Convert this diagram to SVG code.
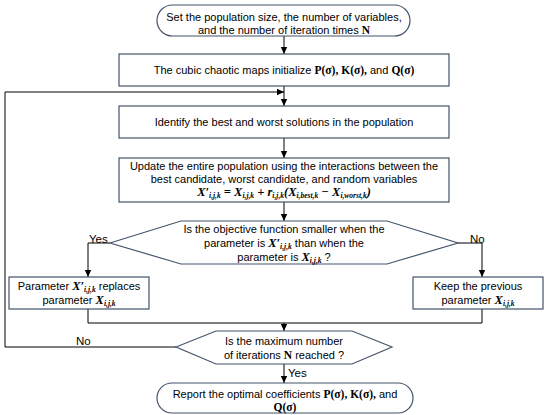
<svg xmlns="http://www.w3.org/2000/svg" width="550" height="415" viewBox="0 0 550 415">
<defs>
<marker id="ah" markerWidth="8" markerHeight="8" refX="7" refY="4" orient="auto" markerUnits="userSpaceOnUse">
<path d="M0,0.8 L7,4 L0,7.2 Z" fill="#000"/>
</marker>
<style>
.shape{fill:#fff;stroke:#44546a;stroke-width:1.2}
.con{fill:none;stroke:#000;stroke-width:1}
.t{font-family:"Liberation Sans",Arial,sans-serif;font-size:11px;fill:#000;text-anchor:middle}
.lbl{font-family:"Liberation Sans",Arial,sans-serif;font-size:11.5px;fill:#000}
.m{font-family:"Liberation Serif","Times New Roman",serif;font-weight:bold;font-style:italic;font-size:12.5px}
.mb{font-family:"Liberation Serif","Times New Roman",serif;font-weight:bold;font-size:11.5px}
.s{font-size:7.5px}
</style>
</defs>
<rect width="550" height="415" fill="#fff"/>
<g id="connectors">
<path class="con" d="M284,36 V54" marker-end="url(#ah)"/>
<path class="con" d="M284,86 V106" marker-end="url(#ah)"/>
<path class="con" d="M176,347 H5 V92 H284" marker-end="url(#ah)"/>
<path class="con" d="M284,138 V158" marker-end="url(#ah)"/>
<path class="con" d="M284,202 V221" marker-end="url(#ah)"/>
<path class="con" d="M110,243 H88 V277" marker-end="url(#ah)"/>
<path class="con" d="M458,243 H482 V277" marker-end="url(#ah)"/>
<path class="con" d="M88,309 V323 H482 V309"/>
<path class="con" d="M284,323 V331" marker-end="url(#ah)"/>
<path class="con" d="M284,364 V383" marker-end="url(#ah)"/>
<text class="lbl" x="89" y="243">Yes</text>
<text class="lbl" x="470" y="243">No</text>
<text class="lbl" x="76" y="345">No</text>
<text class="lbl" x="288" y="377">Yes</text>
</g>
<g id="start">
<rect class="shape" x="157" y="5" width="253" height="31" rx="15.5"/>
<text class="t" x="284" y="21">Set the population size, the number of variables,</text>
<text class="t" x="284" y="34">and the number of iteration times <tspan class="mb">N</tspan></text>
</g>
<g id="init">
<rect class="shape" x="119" y="54" width="330" height="32"/>
<text class="t" x="284" y="74">The cubic chaotic maps initialize <tspan class="mb">P(σ), K(σ),</tspan> and <tspan class="mb">Q(σ)</tspan></text>
</g>
<g id="identify">
<rect class="shape" x="119" y="106" width="330" height="32"/>
<text class="t" x="284" y="126">Identify the best and worst solutions in the population</text>
</g>
<g id="update">
<rect class="shape" x="119" y="158" width="330" height="44"/>
<text class="t" x="284" y="170">Update the entire population using the interactions between the</text>
<text class="t" x="284" y="183">best candidate, worst candidate, and random variables</text>
<text class="t m" x="284" y="196">X′<tspan class="s" dy="2">i,j,k</tspan><tspan dy="-2"> = X</tspan><tspan class="s" dy="2">i,j,k</tspan><tspan dy="-2"> + r</tspan><tspan class="s" dy="2">i,j,k</tspan><tspan dy="-2">(X</tspan><tspan class="s" dy="2">i,best,k</tspan><tspan dy="-2"> − X</tspan><tspan class="s" dy="2">i,worst,k</tspan><tspan dy="-2">)</tspan></text>
</g>
<g id="compare">
<polygon class="shape" points="110,243 181,221 387,221 458,243 387,264 181,264"/>
<text class="t" x="284" y="233">Is the objective function smaller when the</text>
<text class="t" x="284" y="247">parameter is <tspan class="m">X′</tspan><tspan class="m s" dy="2">i,j,k</tspan><tspan dy="-2">  than when the</tspan></text>
<text class="t" x="284" y="261">parameter is <tspan class="m">X</tspan><tspan class="m s" dy="2">i,j,k</tspan><tspan dy="-2"> ?</tspan></text>
</g>
<g id="replace">
<rect class="shape" x="9" y="277" width="140" height="32"/>
<text class="t" x="79" y="290">Parameter <tspan class="m">X′</tspan><tspan class="m s" dy="2">i,j,k</tspan><tspan dy="-2"> replaces</tspan></text>
<text class="t" x="79" y="304">parameter <tspan class="m">X</tspan><tspan class="m s" dy="2">i,j,k</tspan></text>
</g>
<g id="keep">
<rect class="shape" x="413" y="277" width="130" height="32"/>
<text class="t" x="478" y="290">Keep the previous</text>
<text class="t" x="478" y="304">parameter <tspan class="m">X</tspan><tspan class="m s" dy="2">i,j,k</tspan></text>
</g>
<g id="maxiter">
<polygon class="shape" points="176,347 216,331 352,331 392,347 352,364 216,364"/>
<text class="t" x="284" y="345">Is the maximum number</text>
<text class="t" x="284" y="359">of iterations <tspan class="mb">N</tspan> reached ?</text>
</g>
<g id="report">
<rect class="shape" x="157" y="383" width="256" height="30" rx="15"/>
<text class="t" x="285" y="398">Report the optimal coefficients <tspan class="mb">P(σ), K(σ),</tspan> and</text>
<text class="t" x="285" y="411"><tspan class="mb">Q(σ)</tspan></text>
</g>
</svg>
